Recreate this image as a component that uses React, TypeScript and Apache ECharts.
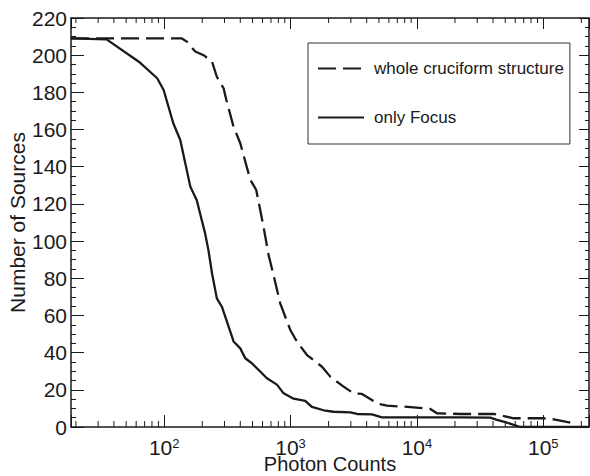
import React, { useEffect, useRef } from "react";
import * as echarts from "echarts";

const X_MIN = 18.3;
const X_MAX = 230000;
const Y_MIN = 0;
const Y_MAX = 220;
const Y_INTERVAL = 20;

const SERIES_NAMES = ["whole cruciform structure", "only Focus"];

// whole cruciform structure (dashed)
const wholeX = [18.3, 138, 151, 176, 205, 239, 261, 295, 310, 354, 400, 480, 535, 611, 670, 733, 828, 995, 1124, 1349, 1774, 2061, 2628, 3156, 3673, 4975, 5800, 9420, 12770, 14400, 22100, 40500, 58300, 100000, 121000, 160000, 175000];
const wholeY = [209, 209, 207.3, 202, 200, 196.5, 188.4, 182.2, 176, 161.5, 152.6, 133, 127.5, 107.7, 92.5, 81.8, 66.5, 52.2, 45.9, 38.7, 32.4, 27.1, 21.7, 18.1, 17.8, 12.4, 11.5, 10.6, 9.7, 7.4, 7, 7, 4.7, 4.7, 4.1, 2.5, 1.5];

// only Focus (solid)
const focusX = [18.3, 35, 63, 88, 99, 118, 134, 161, 181, 211, 224, 239, 261, 286, 354, 400, 438, 494, 650, 780, 881, 1057, 1306, 1476, 1825, 2188, 2972, 3357, 4407, 5290, 22100, 38100, 43000, 51700, 65800, 230000];
const focusY = [209, 208.5, 196.5, 187.6, 181.3, 163.4, 154.4, 129.3, 122, 104, 95, 82.7, 69.2, 64.7, 46, 42.3, 37, 34.3, 26.2, 22.8, 18.1, 15.2, 14.1, 10.8, 9, 8.2, 7.9, 7, 6.8, 5.2, 5.2, 5, 3.8, 2.3, 0, 0];

// minor tick positions on the log axis
const DECADES = [10, 100, 1000, 10000, 100000];
const MULTIPLIERS = [2, 3, 4, 5, 6, 7, 8, 9];

const INK = "#1a1a1a";
const FONT = "Liberation Sans, Arial, sans-serif";

export default function App() {
  const ref = useRef<HTMLDivElement>(null);
  useEffect(() => {
    if (!ref.current) return;
    const chart = echarts.init(ref.current, undefined, { renderer: "svg" });
    const minorX: number[] = [];
    DECADES.forEach((d) =>
      MULTIPLIERS.forEach((m) => {
        const v = d * m;
        if (v > X_MIN && v < X_MAX) minorX.push(v);
      })
    );
    const wholeData = wholeX.map((x, i) => [x, wholeY[i]]);
    const focusData = focusX.map((x, i) => [x, focusY[i]]);

    const logLabel = (v: number) => {
      const l = Math.log10(v);
      const e = Math.round(l);
      if (Math.abs(l - e) > 1e-6) return "";
      return `{b|10}{s|${e}}`;
    };

    chart.setOption({
      animation: false,
      backgroundColor: "#fff",
      textStyle: { fontFamily: FONT },
      grid: { left: 71, right: 1, top: 18, bottom: 49, containLabel: false, outerBoundsMode: "none" },
      legend: {
        data: SERIES_NAMES,
        orient: "vertical",
        left: 308,
        top: 43,
        padding: [17, 6, 18, 9],
        itemWidth: 46,
        itemHeight: 14,
        itemGap: 32,
        borderColor: "#333",
        borderWidth: 1,
        backgroundColor: "#fff",
        itemStyle: { color: "rgba(0,0,0,0)", borderWidth: 0, opacity: 0 },
        textStyle: { fontSize: 17, color: INK, fontFamily: FONT, padding: [0, 0, 0, 5] },
      },
      xAxis: [
        {
          type: "log",
          logBase: 10,
          min: X_MIN,
          max: X_MAX,
          position: "bottom",
          name: "Photon Counts",
          nameLocation: "middle",
          nameGap: 27,
          nameMoveOverlap: false,
          nameTextStyle: { fontSize: 20, color: INK, fontFamily: FONT },
          axisLine: { show: true, onZero: false, lineStyle: { color: INK, width: 1.5 } },
          axisTick: { show: true, inside: true, length: 12, lineStyle: { color: INK, width: 1 } },
          axisLabel: {
            show: true,
            margin: 10,
            formatter: logLabel,
            rich: {
              b: { fontSize: 21, color: INK, fontFamily: FONT },
              s: { fontSize: 13, color: INK, fontFamily: FONT, verticalAlign: "top" },
            },
          },
          splitLine: { show: false },
        },
        {
          type: "log",
          logBase: 10,
          min: X_MIN,
          max: X_MAX,
          position: "top",
          axisLine: { show: true, onZero: false, lineStyle: { color: INK, width: 1.5 } },
          axisTick: { show: true, inside: true, length: 11, lineStyle: { color: INK, width: 1 } },
          axisLabel: { show: false },
          splitLine: { show: false },
        },
      ],
      yAxis: [
        {
          type: "value",
          min: Y_MIN,
          max: Y_MAX,
          interval: Y_INTERVAL,
          position: "left",
          name: "Number of Sources",
          nameLocation: "middle",
          nameGap: 43,
          nameMoveOverlap: false,
          nameTextStyle: { fontSize: 21, color: INK, fontFamily: FONT },
          axisLine: { show: true, onZero: false, lineStyle: { color: INK, width: 1.5 } },
          axisTick: { show: true, inside: true, length: 13, lineStyle: { color: INK, width: 1 } },
          minorTick: { show: true, splitNumber: 4, length: 5, lineStyle: { color: INK, width: 1 } },
          axisLabel: { margin: 4, fontSize: 21, color: INK, fontFamily: FONT },
          splitLine: { show: false },
        },
        {
          type: "value",
          min: Y_MIN,
          max: Y_MAX,
          interval: Y_INTERVAL,
          position: "right",
          axisLine: { show: true, onZero: false, lineStyle: { color: INK, width: 1.5 } },
          axisTick: { show: true, inside: true, length: 10, lineStyle: { color: INK, width: 1 } },
          minorTick: { show: true, splitNumber: 4, length: 4, lineStyle: { color: INK, width: 1 } },
          axisLabel: { show: false },
          splitLine: { show: false },
        },
      ],
      series: [
        {
          name: SERIES_NAMES[0],
          type: "line",
          data: wholeData,
          showSymbol: false,
          symbol: "none",
          lineStyle: { color: INK, width: 2.3, type: [18, 7] },
          itemStyle: { color: INK },
          z: 3,
        },
        {
          name: SERIES_NAMES[1],
          type: "line",
          data: focusData,
          showSymbol: false,
          symbol: "none",
          lineStyle: { color: INK, width: 2.3 },
          itemStyle: { color: INK },
          z: 3,
        },
        {
          type: "custom",
          silent: true,
          clip: false,
          data: minorX.map((v) => [v, 0]),
          encode: { x: 0, y: 1 },
          renderItem: (_p: any, api: any) => {
            const v = api.value(0);
            const b = api.coord([v, Y_MIN]);
            const t = api.coord([v, Y_MAX]);
            return {
              type: "group",
              children: [
                { type: "line", shape: { x1: b[0], y1: b[1], x2: b[0], y2: b[1] - 6 }, style: { stroke: INK, lineWidth: 1 } },
                { type: "line", shape: { x1: t[0], y1: t[1], x2: t[0], y2: t[1] + 5 }, style: { stroke: INK, lineWidth: 1 } },
              ],
            };
          },
          z: 2,
        },
      ],
    });
    return () => chart.dispose();
  }, []);
  return <div ref={ref} style={{ position: "fixed", left: 0, top: 0, width: 590, height: 476 }} />;
}
